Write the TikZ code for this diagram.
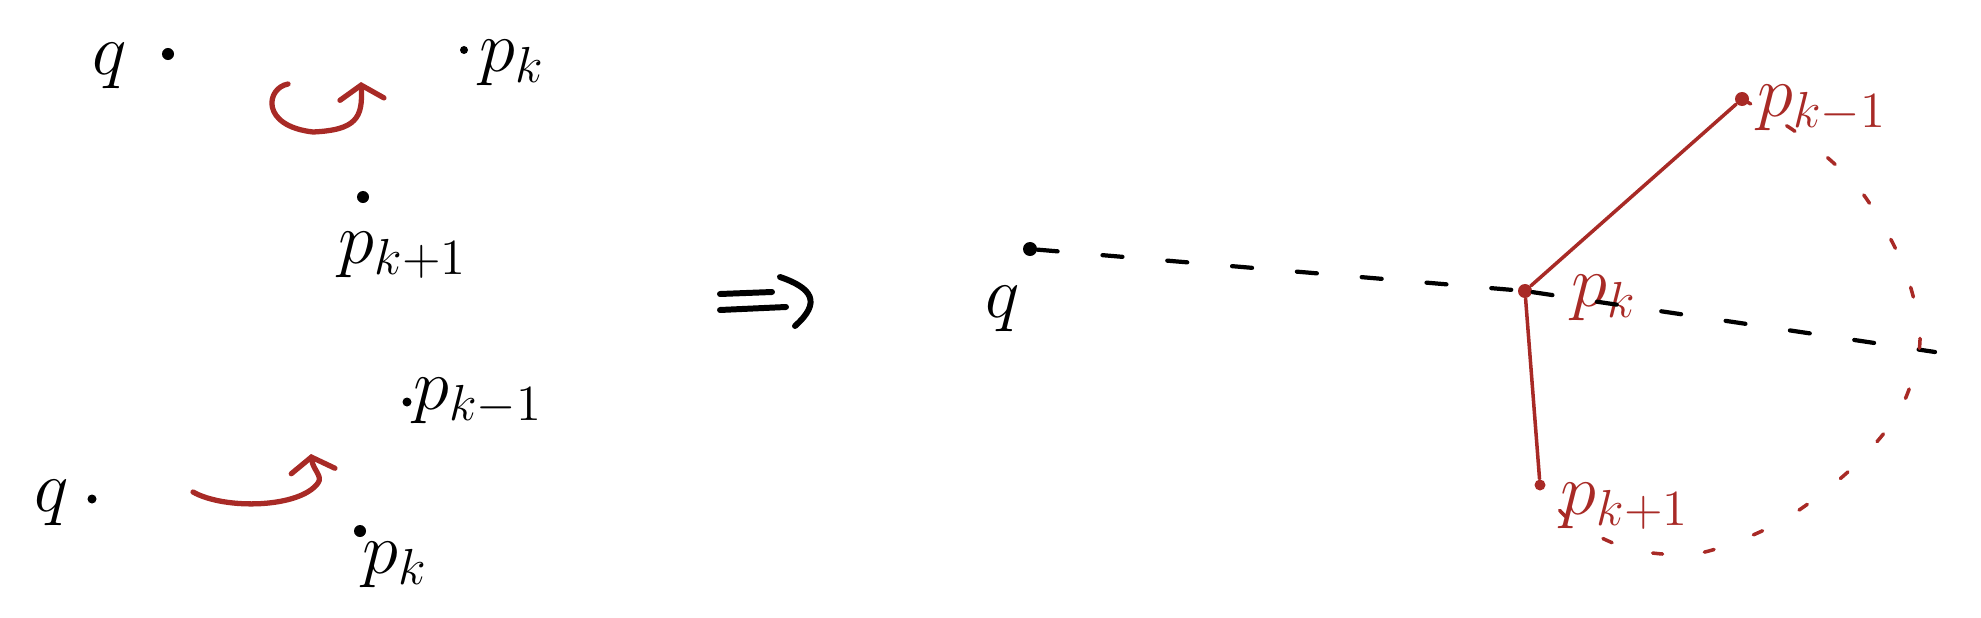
\documentclass[tikz,border=0pt]{standalone}
\usepackage{amsmath}
\usepackage{xcolor}
\usepackage{tikz}
\usetikzlibrary{arrows.meta}

\definecolor{inkred}{RGB}{168,42,38}

\begin{document}
\begin{tikzpicture}[x=0.01cm,y=-0.01cm,
		dot/.style={circle,fill=black,inner sep=0pt,minimum size=0.12cm},
		reddot/.style={circle,fill=inkred,inner sep=0pt,minimum size=0.14cm},
		lbl/.style={font=\huge},
		redlbl/.style={font=\huge,text=inkred},
		turnarrow/.style={draw=inkred,line width=1.5pt,line cap=round,-{Straight Barb[length=1.4mm,width=4.4mm,line cap=round]}},
		impl/.style={draw=black,line width=1.7pt,line cap=round},
		rayline/.style={draw=black,line width=1.2pt,line cap=round,dash pattern=on 0.2cm off 0.45cm},
		hullline/.style={draw=inkred,line width=1pt,line cap=round},
		hulldash/.style={draw=inkred,line width=1pt,line cap=round,dash pattern=on 0.1cm off 0.42cm}]
		\useasboundingbox (0,0) rectangle (1981,618);

		% first case
		\node[dot] (qa) at (168,54) {};
		\node[dot,minimum size=0.08cm] (pka) at (464,50) {};
		\node[dot] (pkpa) at (363,197) {};
		\node[lbl] (qalbl) at (110,66) {$q$};
		\node[lbl] (pkalbl) at (512,63) {$p_k$};
		\node[lbl] (pkpalbl) at (403,255) {$p_{k+1}$};
		\draw[turnarrow] (288,84) .. controls (266,88) and (260,126) .. (313,132) .. controls (356,130) and (363,118) .. (361,82);

		% second case
		\node[dot,minimum size=0.09cm] (qc) at (92,499) {};
		\node[dot,minimum size=0.09cm] (pkmc) at (407,402) {};
		\node[dot] (pkc) at (360,531) {};
		\node[lbl] (qclbl) at (52,503) {$q$};
		\node[lbl] (pkmclbl) at (478,401) {$p_{k-1}$};
		\node[lbl] (pkclbl) at (395,565) {$p_k$};
		\draw[turnarrow] (193,492) .. controls (225,510) and (300,508) .. (318,483) .. controls (323,476) and (313,470) .. (311,454);

		% implies
		\draw[impl] (720,294) -- (772,292);
		\draw[impl] (720,310) -- (786,307);
		\draw[impl] (780,277) .. controls (812,288) and (822,302) .. (795,326);

		% result
		\node[dot,minimum size=0.14cm] (qb) at (1030,249) {};
		\node[reddot] (pkb) at (1525,291) {};
		\node[reddot] (pkmb) at (1742,99) {};
		\node[reddot,minimum size=0.11cm] (pkpb) at (1540,485) {};
		\coordinate (rayend) at (1935,352);
		\node[lbl] (qblbl) at (1003,309) {$q$};
		\node[redlbl] (pkblbl) at (1604,298) {$p_k$};
		\node[redlbl] (pkmblbl) at (1822,108) {$p_{k-1}$};
		\node[redlbl] (pkpblbl) at (1625,506) {$p_{k+1}$};

		\draw[rayline] (qb) -- (pkb) -- (rayend);
		\draw[hullline] (pkb) -- (pkmb);
		\draw[hullline] (pkb) -- (pkpb);
		\draw[hulldash] plot[smooth] coordinates {(pkmb) (1800,135) (1860,190) (1903,265) (1920,340) (1900,410) (1850,470) (1780,522) (1700,553) (1630,549) (1570,520) (pkpb)};
	\end{tikzpicture}
\end{document}
